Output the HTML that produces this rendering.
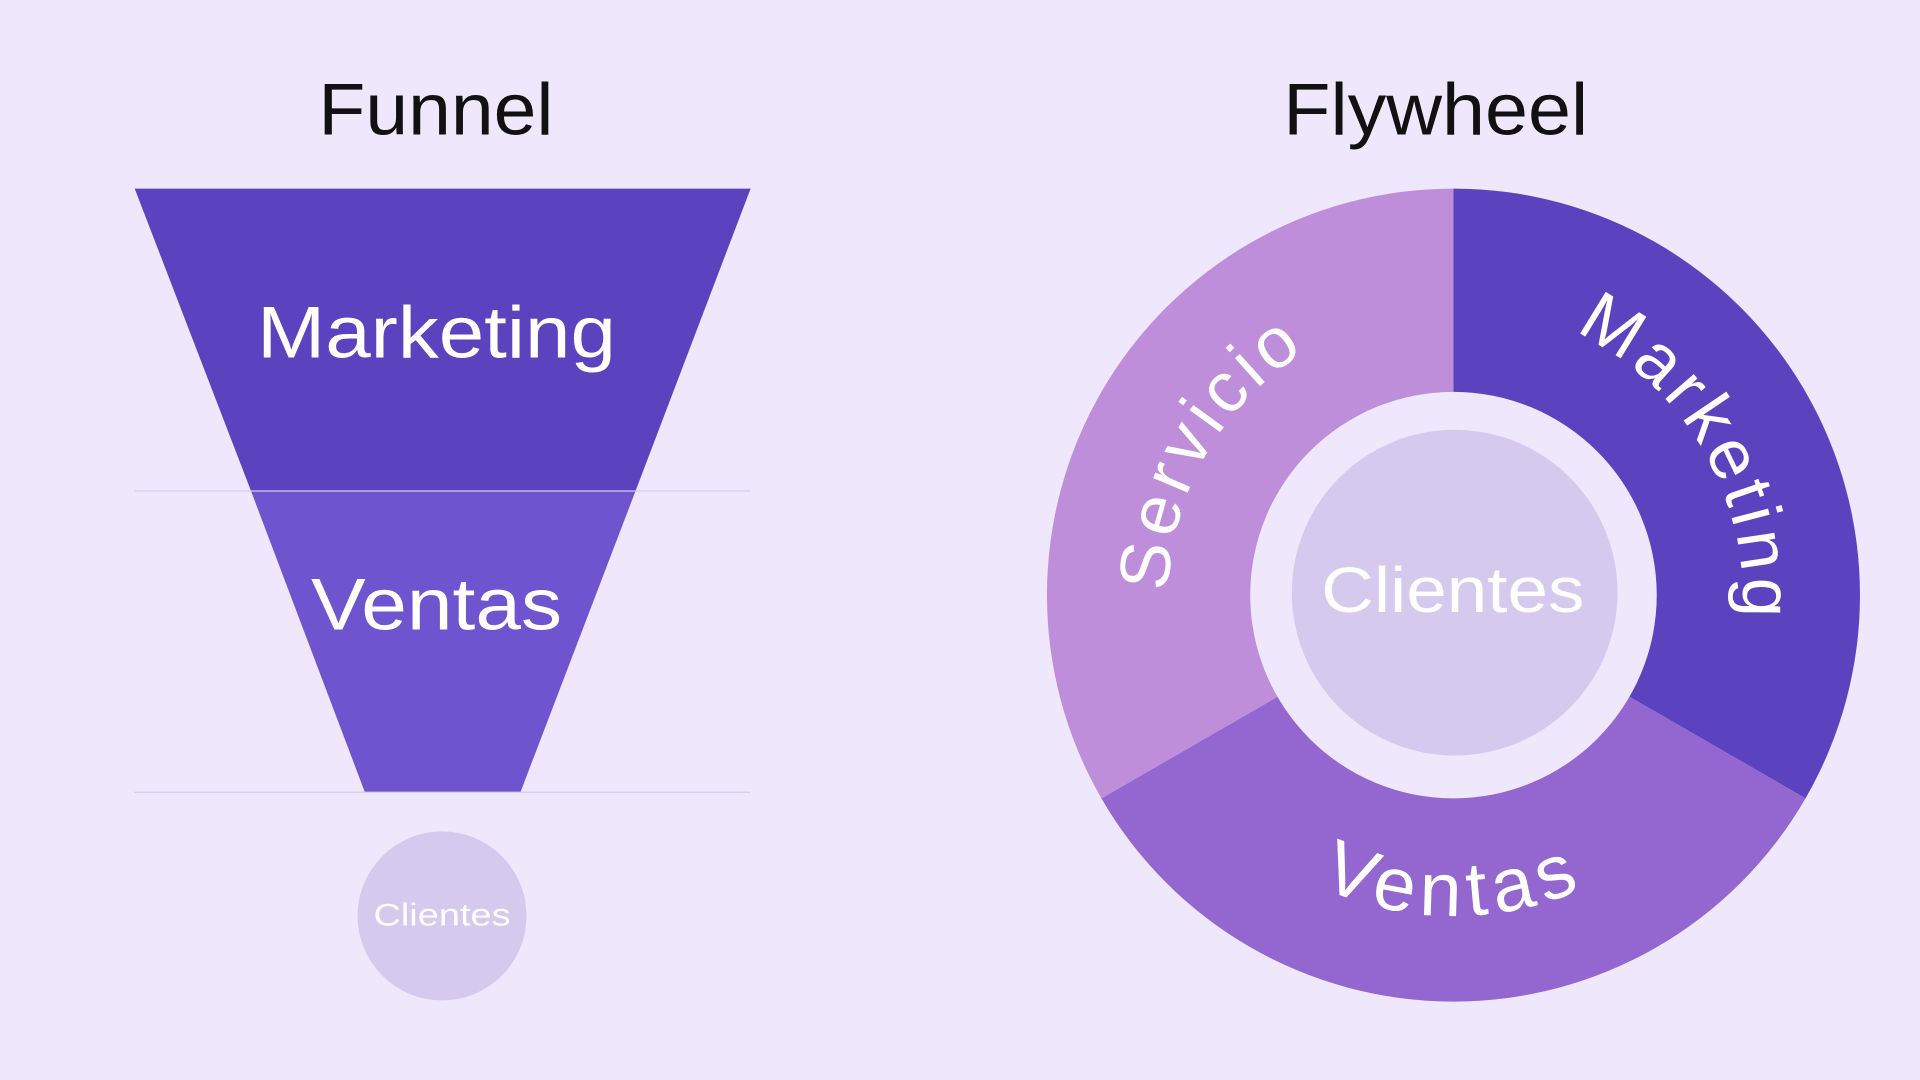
<!DOCTYPE html>
<html><head><meta charset="utf-8"><style>
html,body{margin:0;padding:0;background:#efe7fc;}
svg{display:block}
text{font-family:"Liberation Sans",sans-serif;}
</style></head><body>
<svg width="1920" height="1080" viewBox="0 0 1568 882" xmlns="http://www.w3.org/2000/svg">
<rect width="1568" height="882" fill="#efe7fc"/>
<text x="260" y="110" font-size="60" textLength="192" lengthAdjust="spacingAndGlyphs" fill="#111">Funnel</text>
<text x="1048" y="110" font-size="60" textLength="249" lengthAdjust="spacingAndGlyphs" fill="#111">Flywheel</text>
<polygon points="110,154 613,154 519,401 205,401" fill="#5b43c0"/>
<polygon points="205,401 519,401 425,647 298,647" fill="#6e54cf"/>
<line x1="110" y1="401" x2="613" y2="401" stroke="#d6cde8" stroke-width="1"/>
<line x1="110" y1="647" x2="613" y2="647" stroke="#d6cde8" stroke-width="1"/>
<text x="210" y="292" font-size="60" textLength="293" lengthAdjust="spacingAndGlyphs" fill="#fff">Marketing</text>
<text x="254" y="514" font-size="60" textLength="205" lengthAdjust="spacingAndGlyphs" fill="#fff">Ventas</text>
<circle cx="361" cy="748" r="69" fill="#d5c9ee"/>
<text x="305" y="756" font-size="26" textLength="112" lengthAdjust="spacingAndGlyphs" fill="#fff">Clientes</text>
<g transform="translate(1187,486)">
<path d="M0,0 L0,-332 A332,332 0 0 1 287.5,166 Z" fill="#5b43c0"/>
<path d="M0,0 L287.5,166 A332,332 0 0 1 -287.5,166 Z" fill="#9366d0"/>
<path d="M0,0 L-287.5,166 A332,332 0 0 1 0,-332 Z" fill="#bf8edb"/>
<circle r="166" fill="#efe7fc"/>
<circle cx="1" cy="-2" r="133" fill="#d5c9ee"/>
</g>
<defs>
<path id="pm" d="M1067,278.2 A240,240 0 0 1 1307,693.8"/>
<path id="ps" d="M1069.5,689.5 A235,235 0 0 1 1304.5,282.5"/>
<path id="pv" d="M960.1,617 A262,262 0 0 0 1413.9,617"/>
</defs>
<text font-size="58" letter-spacing="4" fill="#fff"><textPath href="#pm" startOffset="50%" text-anchor="middle">Marketing</textPath></text>
<text font-size="58" letter-spacing="4" fill="#fff"><textPath href="#ps" startOffset="50%" text-anchor="middle">Servicio</textPath></text>
<text font-size="62" letter-spacing="6" fill="#fff"><textPath href="#pv" startOffset="50%" text-anchor="middle">Ventas</textPath></text>
<text x="1079" y="500" font-size="52" textLength="215" lengthAdjust="spacingAndGlyphs" fill="#fff">Clientes</text>
</svg>
</body></html>
